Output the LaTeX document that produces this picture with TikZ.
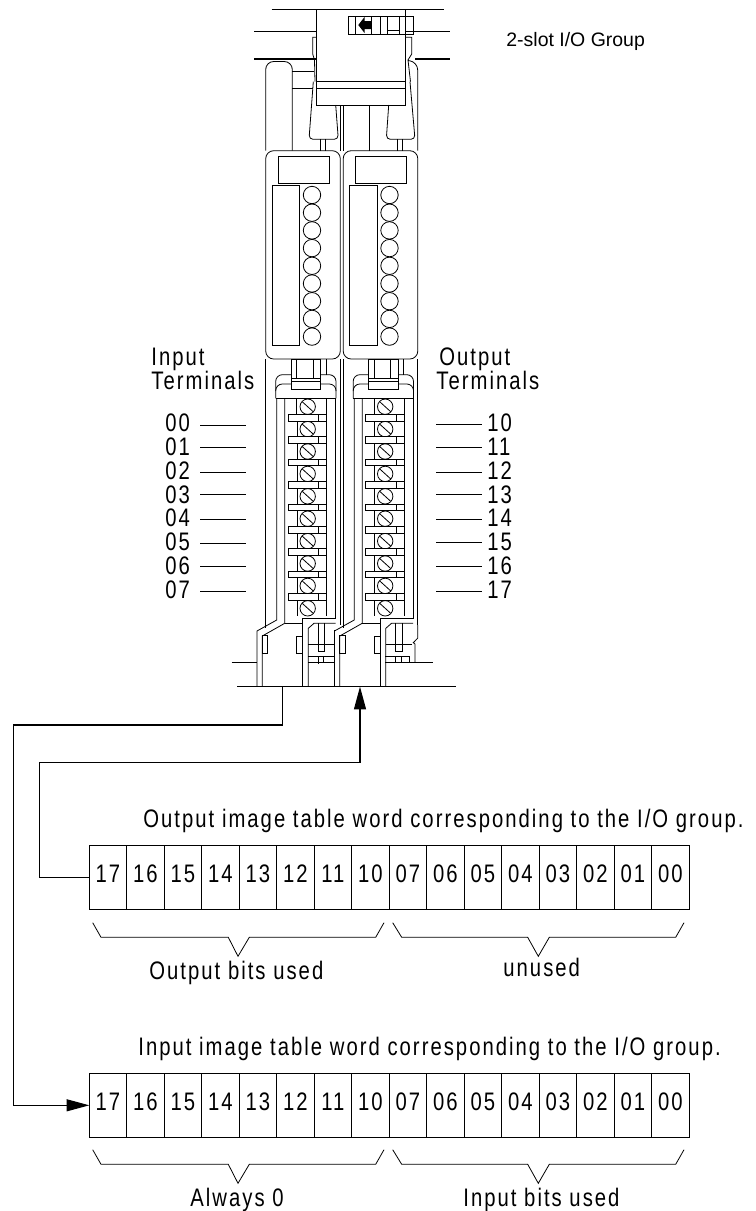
\documentclass[tikz,border=0pt]{standalone}
\usepackage{fontspec}
\setmainfont{Liberation Sans}
\newfontfamily\widefont[FakeStretch=0.8,LetterSpace=8]{Liberation Sans}
\usetikzlibrary{arrows.meta}
\tikzset{
  txt/.style={font=\widefont\fontsize{19}{22}\selectfont,inner sep=0,anchor=base west},
  cell/.style={draw,font=\widefont\fontsize{19}{22}\selectfont,inner sep=0,outer sep=0,minimum width=28.12pt,minimum height=48pt,text height=13pt,text depth=5pt},
  wire/.style={line width=.8pt},
  bigtip/.style={-{Triangle[length=17pt,width=9pt]}}
}
\begin{document}
\begin{tikzpicture}[x=.75pt,y=-.75pt,line width=.6pt,line join=miter]
\useasboundingbox (0,0) rectangle (756,1211);

% rack and top latch
\draw (271.7,9.7)--(444,9.7);
\draw (254,31)--(316.7,31) (405.7,31)--(450,31);
\draw[line width=1.1pt] (254,59)--(316.7,59) (415,59)--(450,59);
\draw (316.7,9.5) rectangle (405.7,105);
\draw (316.7,81.7)--(405.7,81.7) (316.7,88.3)--(405.7,88.3);
\draw (348,16.7) rectangle (413,34);
\foreach \x in {355,371.7,380.7,387.3,399.3,405.7} \draw (\x,16.7)--(\x,34);
\draw (387.3,30.7)--(399.3,30.7);
\fill (358.3,25)--(364.5,17)--(364.5,21)--(371.7,21)--(371.7,29)--(364.5,29)--(364.5,33)--cycle;
\draw (316.7,37.3)--(312.7,37.3)--(312.7,54)--(314.5,60)--(315,81.7);
\draw (405.7,37.3)--(411.7,37.3)--(411.7,54)--(408,60)--(410.5,81.7);

% guides over the modules
\draw[rounded corners=6] (265.7,150.7)--(265.7,61.5)--(292.3,61.5)--(292.3,150.7);
\draw (292.3,71.3)--(313.5,71.3) (292.3,88)--(313,88);
\draw[rounded corners=6] (417.7,150.7)--(417.7,62)--(408,60.5);
\draw[rounded corners=3] (313.3,81.7)--(309,139.3)--(338.3,139.3)--(335.7,105);
\draw[rounded corners=3] (388.7,105)--(386.3,139.3)--(415,139.3)--(410,81.7);
\draw (320.7,139.3)--(320.7,150.7) (325.7,139.3)--(325.7,150.7);
\draw (397.7,139.3)--(397.7,150.7) (402.7,139.3)--(402.7,150.7);
\draw (340.3,105)--(340.3,150.7) (343.7,105)--(343.7,150.7) (369.7,105)--(369.7,150.7);

% both modules
\foreach \dx in {0,77.5} {
\begin{scope}[xshift=\dx*.75pt]
\draw[rounded corners=6] (265.7,150.7) rectangle (340.3,359);
\draw (278.3,156) rectangle (329,183);
\draw (272.3,185.7) rectangle (299.7,345.4);
\foreach \i in {0,...,8} \draw (312,195+17.7*\i) circle[radius=8.7];
% terminal cover
\draw (265.7,359)--(265.7,628) (340.3,359)--(340.3,625);
\draw (291,359) rectangle (320.7,389);
\draw (291,378)--(320.7,378) (291,381.7)--(320.7,381.7);
\draw (296.7,359)--(296.7,378) (313.3,359)--(313.3,378) (326,359)--(326,374.7);
\draw[rounded corners=5] (291,374.7)--(275.7,374.7)--(275.7,398.3);
\draw[rounded corners=5] (320.7,374.7)--(336,374.7)--(336,398.3);
\draw[rounded corners=5] (291,384)--(275.7,384)--(275.7,391);
\draw[rounded corners=5] (320.7,384)--(336,384)--(336,391);
\draw (275.7,398.3)--(336,398.3);
% screws and separators
\foreach \i in {0,...,9} {
  \draw (307.7,406.7+22.4*\i) circle[radius=7.7];
  \draw (302.2,401.7+22.4*\i)--(313.2,411.7+22.4*\i);
}
\foreach \i in {0,...,8} {
  \draw[fill=white] (288.3,414.4+22.4*\i) rectangle (326.7,421+22.4*\i);
  \draw (318.7,414.4+22.4*\i)--(318.7,421+22.4*\i);
}
\draw (296.7,398.3)--(296.7,414.4);
\foreach \i in {0,...,8} \draw (296.9,421+22.4*\i)--(296.9,436.8+22.4*\i) (326.7,421+22.4*\i)--(326.7,436.8+22.4*\i);
\draw (326.7,398.3)--(326.7,414.4);
% foot of the module
\draw (276.7,398.3)--(276.7,620)--(257,631)--(257,686.7);
\draw (284.7,398.3)--(284.7,623.3)--(262.3,636)--(262.3,686.7);
\draw (262.3,635) rectangle (267.7,653.3);
\draw (296.7,636) rectangle (302.7,653.3);
\draw (302.7,686.7)--(302.7,618.3)--(335.7,618.3)--(335.7,398.3);
\draw (308.3,686.7)--(308.3,628.3)--(314,623.3)--(335.7,623.3);
\draw (284.7,623.3)--(302.7,623.3);
\draw (318,623.3)--(318,651.7)--(324.7,651.7)--(324.7,623.3);
\draw (308.3,644)--(334.3,644);
\end{scope}
}
\draw (231.7,662.3)--(257,662.3);
\draw (308.3,656.7)--(334.3,656.7) (308.3,662.3)--(334.3,662.3);
\draw (318,656.7)--(318,663.5) (323.5,656.7)--(323.5,662.3);
\draw (334.3,630)--(334.3,686.7);
\draw (385.3,656.7)--(409.3,656.7)--(409.3,662.3) (385.3,662.3)--(432.7,662.3);
\draw (395.7,656.7)--(395.7,662.3) (401,656.7)--(401,662.3);
\draw (417.8,625)--(417.8,638)--(413.3,642.7)--(415,644)--(415,662.3);

% bus
\draw (237.3,686.7)--(456,686.7);
\coordinate (busin) at (282.7,686.7);
\coordinate (busout) at (360,686.7);

% terminal numbers
\foreach \lab/\y/\ly in {00/422.7/425,01/446.7/447.3,02/471/472.7,03/495/494.7,04/518/519.7,05/542/543,06/566/566.3,07/590/591.7} {
  \node[txt,anchor=west] (inlab\lab) at (165,\y) {\lab};
  \coordinate (intick\lab) at (245.7,\ly);
  \draw (200,\ly)--(intick\lab);
}
\foreach \lab/\y/\ly in {10/422.7/424,11/446.7/447,12/471/472,13/495/494,14/518/519,15/542/542,16/566/566,17/590/591} {
  \node[txt,anchor=west] (outlab\lab) at (487,\y) {\lab};
  \coordinate (outtick\lab) at (436,\ly);
  \draw (outtick\lab)--(482,\ly);
}
\node[txt] (inhead) at (151,365) {Input};
\node[txt] (interm) at (151,389) {Terminals};
\node[txt] (outhead) at (439,365) {Output};
\node[txt] (outterm) at (436,389) {Terminals};
\node[font=\fontsize{14.6}{17}\selectfont,inner sep=0,anchor=base west] (group) at (506,46) {2-slot I/O Group};

% image tables
\node[txt] (outcap) at (143,827.3) {Output image table word corresponding to the I/O group.};
\node[txt] (incap) at (138,1055) {Input image table word corresponding to the I/O group.};
\foreach \lab [count=\i from 0] in {17,16,15,14,13,12,11,10,07,06,05,04,03,02,01,00} {
  \node[cell] (out\lab) at (108+37.5*\i,877.3) {\lab};
  \node[cell] (in\lab) at (108+37.5*\i,1105.3) {\lab};
}
\foreach \y in {0,227} {
  \draw (92.7,922.7+\y)--(101,937.3+\y)--(228.3,937.3+\y)--(238,956.3+\y)--(249.3,937.3+\y)--(375.7,937.3+\y)--(384,922.7+\y);
  \draw (392.7,922.7+\y)--(401.7,937.3+\y)--(527.7,937.3+\y)--(538.3,956.3+\y)--(549.3,937.3+\y)--(675.7,937.3+\y)--(684,922.7+\y);
}
\node[txt] (outused) at (149,979) {Output bits used};
\node[txt] (unused) at (503,976) {unused};
\node[txt] (always) at (190,1206.7) {Always 0};
\node[txt] (inused) at (463,1206.7) {Input bits used};

% wires
\draw[wire,bigtip] (out17.west)--(39.7,877.3)--(39.7,762.3)--(360,762.3)--(busout);
\draw[wire,bigtip] (busin)--(282.7,725)--(13.3,725)--(13.3,1105.3)--(in17.west);

\end{tikzpicture}
\end{document}
